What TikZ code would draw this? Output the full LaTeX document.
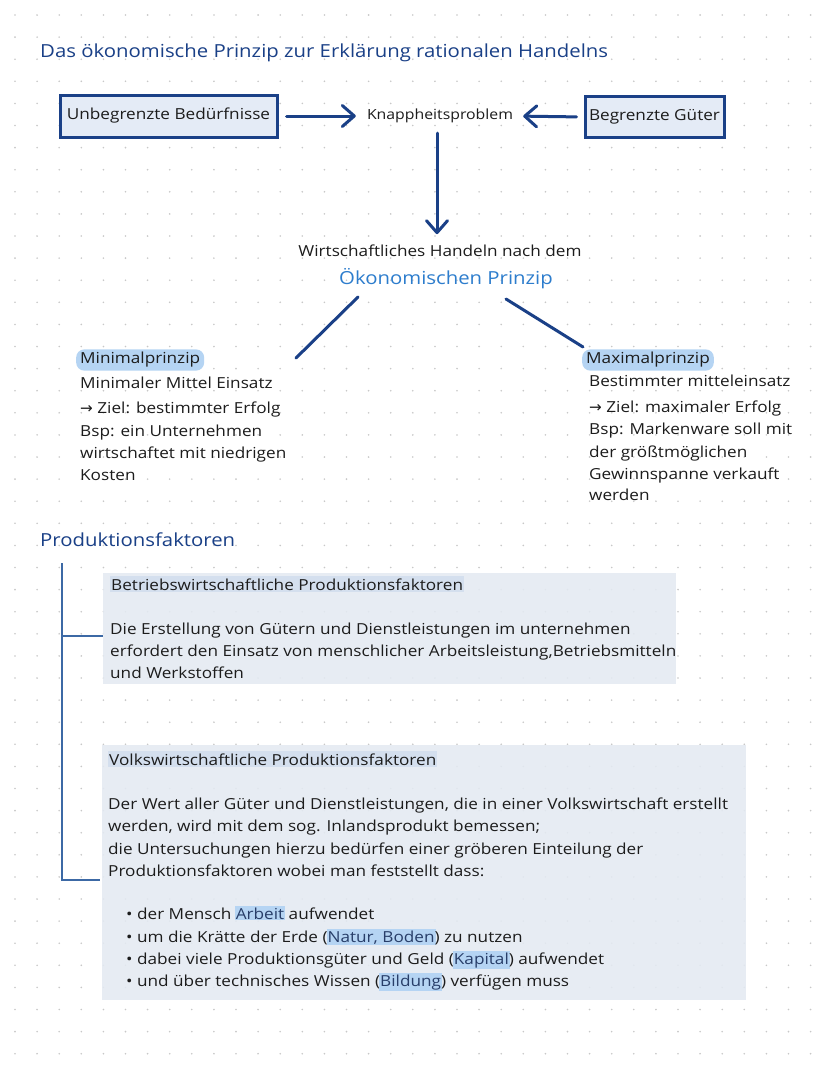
\documentclass[tikz,border=0pt]{standalone}
\usepackage{fontspec}
\setmainfont{Open Sans}[FakeStretch=1.13]
\newfontfamily\symfont{DejaVu Sans}
\usetikzlibrary{arrows.meta}
\definecolor{inkblue}{RGB}{26,64,135}
\definecolor{lightblue}{RGB}{45,125,205}
\definecolor{hlc}{RGB}{181,212,243}
\definecolor{boxfill}{RGB}{228,235,246}
\definecolor{secfill}{RGB}{228,234,242}
\definecolor{sechl}{RGB}{212,223,238}
\definecolor{brk}{RGB}{60,105,165}
\definecolor{dotc}{RGB}{200,200,200}
\definecolor{ink}{RGB}{28,28,28}
\definecolor{hltext}{RGB}{40,62,105}
\newcommand\fsz[1]{\fontsize{#1}{#1}\selectfont}
\newcommand\hlword[1]{{\setlength{\fboxsep}{1pt}\hspace{-1pt}\colorbox{hlc}{\textcolor{hltext}{#1}}\hspace{-1pt}}}
\newcommand\rarr{{\symfont →}}
\begin{document}
\begin{tikzpicture}[x=1pt,y=-1pt,
  txt/.style={anchor=base west,inner sep=0pt,text=ink,font=\fsz{15.2}},
  ctxt/.style={anchor=base,inner sep=0pt,text=ink,font=\fsz{15.2}},
  head/.style={anchor=base west,inner sep=0pt,text=inkblue,font=\fsz{18}},
  topbox/.style={draw=inkblue,line width=3pt,fill=boxfill,text=ink,font=\fsz{15.2},inner sep=0pt},
  hlbox/.style={anchor=west,fill=hlc,rounded corners=8pt,inner xsep=4pt,inner ysep=3pt,text=ink,font=\fsz{15.2}},
  secbox/.style={fill=secfill,fill opacity=0.88,draw=none,inner sep=0pt},
  sectitle/.style={anchor=base west,inner xsep=1pt,inner ysep=2pt,fill=sechl,text=ink,font=\fsz{15.2}},
  arr/.style={draw=inkblue,line width=3pt,line cap=round,-{Straight Barb[length=12pt,width=21pt,round]}},
  conn/.style={draw=inkblue,line width=3pt,line cap=round},
  brkline/.style={draw=brk,line width=1.2pt}
]
\useasboundingbox (0,0) rectangle (828,1071);
\fill[white] (0,0) rectangle (828,1071);
% dot grid
\foreach \i in {0,...,37}{
  \foreach \j in {0,...,47}{
    \fill[dotc] (15+22.1*\i,15+22.1*\j) circle (0.9pt);
  }
}
% title
\node[head] (title) at (40,57) {Das ökonomische Prinzip zur Erklärung rationalen Handelns};
% top row
\node[topbox,minimum width=217pt,minimum height=42pt] (need) at (168.5,116) {Unbegrenzte Bedürfnisse};
\node[topbox,minimum width=139pt,minimum height=41pt] (goods) at (654.5,117) {Begrenzte Güter};
\node[ctxt,anchor=center,font=\fsz{14}] (knapp) at (440,116) {Knappheitsproblem};
\draw[arr,shorten <=8pt,shorten >=11pt] (need.east) -- (knapp.west);
\draw[arr,shorten <=7pt,shorten >=10pt] (goods.west) -- (knapp.east);
\node[ctxt] (wirt) at (440,256) {Wirtschaftliches Handeln nach dem};
\node[ctxt,text=lightblue,font=\fsz{18}] (oek) at (446,284) {Ökonomischen Prinzip};
\draw[arr,shorten <=10pt,shorten >=10pt] ([xshift=-3pt]knapp.south) -- ([xshift=-3pt]wirt.north);
% principles
\node[hlbox] (minp) at (76,360) {Minimalprinzip\hspace{6pt}};
\node[hlbox] (maxp) at (582,360) {Maximalprinzip\hspace{4pt}};
\coordinate (la) at (358,297);
\coordinate (lb) at (296,358);
\coordinate (ra) at (506,299);
\coordinate (rb) at (583,347);
\draw[conn] (la) -- (lb);
\draw[conn] (ra) -- (rb);
\node[txt] (min1) at (80,388) {Minimaler Mittel Einsatz};
\node[txt] (min2) at (80,413) {\rarr\ Ziel: bestimmter Erfolg};
\node[txt] (min3) at (80,436) {Bsp: ein Unternehmen};
\node[txt] (min4) at (80,458) {wirtschaftet mit niedrigen};
\node[txt] (min5) at (80,480) {Kosten};
\node[txt] (max1) at (589,386) {Bestimmter mitteleinsatz};
\node[txt] (max2) at (589,412) {\rarr\ Ziel: maximaler Erfolg};
\node[txt] (max3) at (589,434) {Bsp: Markenware soll mit};
\node[txt] (max4) at (589,457) {der größtmöglichen};
\node[txt] (max5) at (589,479) {Gewinnspanne verkauft};
\node[txt] (max6) at (589,500) {werden};
% Produktionsfaktoren
\node[head] (prod) at (40,546) {Produktionsfaktoren};
\node[secbox,minimum width=573pt,minimum height=111pt] (sb1) at (389.5,628.5) {};
\node[secbox,minimum width=644pt,minimum height=255pt] (sb2) at (424,872.5) {};
\coordinate (bt) at (62,563);
\coordinate (bm) at (62,636);
\coordinate (bb) at (62,880);
\coordinate (bme) at (103,636);
\coordinate (bbe) at (100,880);
\draw[brkline] (bt) -- (bb) -- (bbe);
\draw[brkline] (bm) -- (bme);
\node[sectitle] (t1) at (110,590) {Betriebswirtschaftliche Produktionsfaktoren};
\node[txt] (s1a) at (110,634) {Die Erstellung von Gütern und Dienstleistungen im unternehmen};
\node[txt] (s1b) at (110,656) {erfordert den Einsatz von menschlicher Arbeitsleistung,Betriebsmitteln};
\node[txt] (s1c) at (110,678) {und Werkstoffen};
\node[sectitle] (t2) at (108,765) {Volkswirtschaftliche Produktionsfaktoren};
\node[txt] (s2a) at (108,809) {Der Wert aller Güter und Dienstleistungen, die in einer Volkswirtschaft erstellt};
\node[txt] (s2b) at (108,831) {werden, wird mit dem sog. Inlandsprodukt bemessen;};
\node[txt] (s2c) at (108,854) {die Untersuchungen hierzu bedürfen einer gröberen Einteilung der};
\node[txt] (s2d) at (108,876) {Produktionsfaktoren wobei man feststellt dass:};
\node[txt] (b1) at (126,919) {• der Mensch \hlword{Arbeit} aufwendet};
\node[txt] (b2) at (126,942) {• um die Krätte der Erde (\hlword{Natur, Boden}) zu nutzen};
\node[txt] (b3) at (126,964) {• dabei viele Produktionsgüter und Geld (\hlword{Kapital}) aufwendet};
\node[txt] (b4) at (126,986) {• und über technisches Wissen (\hlword{Bildung}) verfügen muss};
\end{tikzpicture}
\end{document}
